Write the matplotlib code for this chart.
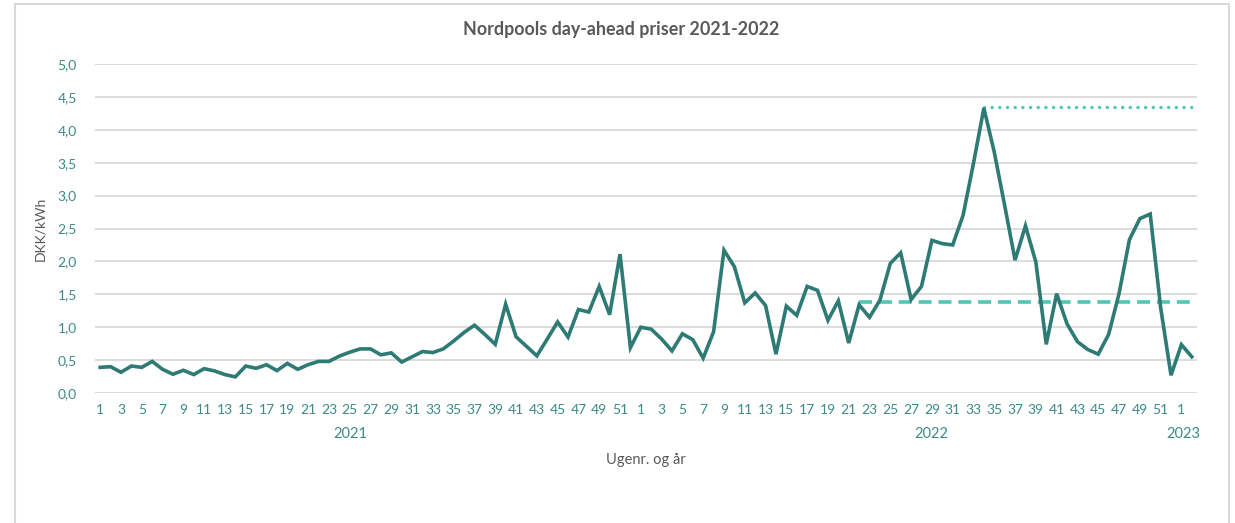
import matplotlib
matplotlib.use("Agg")
import matplotlib.pyplot as plt
from matplotlib.patches import Rectangle

plt.rcParams['font.family'] = ['Lato', 'DejaVu Sans']

# weekly day-ahead prices, DKK/kWh
prices_2021 = [0.39, 0.40, 0.315, 0.41, 0.39, 0.48, 0.36, 0.285, 0.345, 0.28,
               0.37, 0.335, 0.28, 0.245, 0.41, 0.375, 0.43, 0.34, 0.45, 0.36,
               0.43, 0.48, 0.48, 0.56, 0.62, 0.67, 0.67, 0.58, 0.61, 0.47,
               0.55, 0.63, 0.615, 0.67, 0.79, 0.92, 1.03, 0.89, 0.74, 1.35,
               0.855, 0.71, 0.565, 0.82, 1.08, 0.85, 1.27, 1.23, 1.62, 1.19,
               2.11, 0.69]
prices_2022 = [1.00, 0.97, 0.82, 0.64, 0.90, 0.81, 0.53, 0.93, 2.17, 1.92,
               1.37, 1.52, 1.33, 0.59, 1.32, 1.18, 1.62, 1.56, 1.105, 1.40,
               0.76, 1.34, 1.15, 1.41, 1.97, 2.13, 1.42, 1.62, 2.32, 2.27,
               2.25, 2.70, 3.49, 4.33, 3.66, 2.85, 2.02, 2.54, 1.99, 0.74,
               1.51, 1.05, 0.78, 0.66, 0.59, 0.89, 1.51, 2.33, 2.65, 2.72,
               1.30, 0.27]
prices_2023 = [0.735, 0.55]

years = ['2021', '2022', '2023']
weeks = list(range(1, 53)) + list(range(1, 53)) + [1, 2]
prices = prices_2021 + prices_2022 + prices_2023

# reference lines (level, first week index)
avg_level = 1.38
avg_start = 73   # 2022 week 22
max_level = 4.35
max_start = 85   # 2022 week 34

teal = '#2E7A74'
light = '#4FC7B2'
tick_col = '#3E8A88'
grey = '#595959'

fig = plt.figure(figsize=(12.35, 5.23), dpi=100)
fig.patches.append(Rectangle((15 / 1235, -0.01), 1214 / 1235, 1 - 4 / 523 + 0.01,
                             transform=fig.transFigure, fill=False,
                             edgecolor='#D9D9D9', linewidth=1.5))
ax = fig.add_axes([95 / 1235, 130 / 523, 1102 / 1235, 329 / 523])

x = list(range(len(prices)))
ax.plot(x, prices, color=teal, linewidth=2.6, solid_joinstyle='miter', zorder=3)
n = len(prices)
ax.plot([avg_start, n - 1], [avg_level, avg_level], color=light, linewidth=2.6,
        dashes=(3.6, 1.9), zorder=2)
ax.plot([max_start, n - 1], [max_level, max_level], color=light, linewidth=2.5,
        linestyle=(0, (0.01, 2.2)), dash_capstyle='round', zorder=2)

ax.set_xlim(-0.5, n - 0.5)
ax.set_ylim(0, 5)
ax.set_yticks([i * 0.5 for i in range(11)])
ax.set_yticklabels([('%.1f' % (i * 0.5)).replace('.', ',') for i in range(11)])
ticks = [i for i in x if weeks[i] % 2 == 1]
ax.set_xticks(ticks)
ax.set_xticklabels([str(weeks[i]) for i in ticks])
ax.tick_params(axis='both', length=0, labelsize=10, labelcolor=tick_col)
ax.tick_params(axis='y', pad=13)
ax.tick_params(axis='x', pad=8)
ax.grid(axis='y', color='#D9D9D9', linewidth=1.3)
ax.set_axisbelow(True)
for s in ax.spines.values():
    s.set_visible(False)

year_pos = [24.1, 79.9, 104.2]
for yr, p in zip(years, year_pos):
    ax.text(p, -0.125, yr, transform=ax.get_xaxis_transform(), ha='center',
            va='center', fontsize=10.5, color=tick_col)

ax.set_ylabel('DKK/kWh', fontsize=10, color=grey, labelpad=8)
ax.text(0.5, -0.205, 'Ugenr. og år', transform=ax.transAxes, ha='center',
        va='center', fontsize=10.5, color=grey)
fig.text(621 / 1235, 1 - 30 / 523, 'Nordpools day-ahead priser 2021-2022',
         ha='center', va='center', fontsize=12.9, fontweight='bold', color=grey)

fig.savefig('out.png', dpi=100)
